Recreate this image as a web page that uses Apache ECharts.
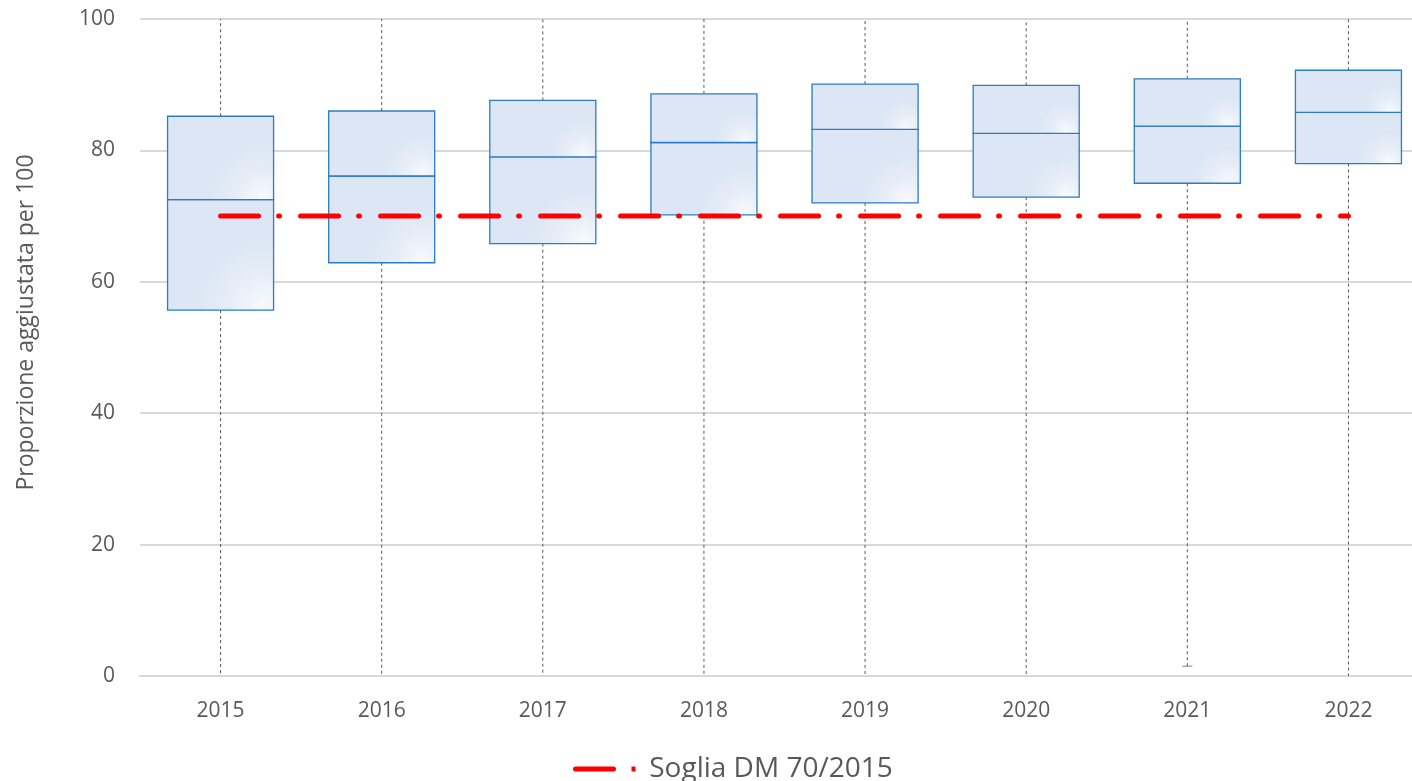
<!DOCTYPE html>
<html>
<head>
<meta charset="utf-8">
<script src="https://cdn.jsdelivr.net/npm/echarts@6/dist/echarts.min.js"></script>
<style>
html,body{margin:0;padding:0;background:#fff;}
#chart{width:1412px;height:781px;}
</style>
</head>
<body>
<div id="chart"></div>
<script>
// ---- data ----
var years = ['2015','2016','2017','2018','2019','2020','2021','2022'];
var whiskerMin = [0, 0, 0, 0, 0, 0, 1.5, 0];
var q1 = [55.7, 62.9, 65.8, 70.2, 72.0, 72.9, 75.0, 78.0];
var median = [72.5, 76.1, 79.0, 81.2, 83.2, 82.6, 83.7, 85.8];
var q3 = [85.2, 86.0, 87.6, 88.6, 90.1, 89.9, 90.9, 92.2];
var whiskerMax = [100, 100, 100, 100, 100, 100, 100, 100];
var threshold = [70, 70, 70, 70, 70, 70, 70, 70];
var yTicks = [0, 20, 40, 60, 80, 100];
var seriesName = 'Soglia DM 70/2015';
var yAxisTitle = 'Proporzione aggiustata per 100';

var boxData = years.map(function (y, i) {
  return [i, whiskerMin[i], q1[i], median[i], q3[i], whiskerMax[i]];
});

var FONT = '"Open Sans", "Noto Sans", sans-serif';
var BORDER = '#2a7cc6';

function boxFill() {
  return new echarts.graphic.RadialGradient(0.88, 0.95, 0.6, [
    { offset: 0, color: '#f7f9fd' },
    { offset: 0.5, color: '#e6edf7' },
    { offset: 1, color: '#dce6f4' }
  ]);
}

function renderBox(params, api) {
  var idx = api.value(0);
  var vMin = api.value(1);
  var pMin = api.coord([idx, vMin]);
  var pQ1 = api.coord([idx, api.value(2)]);
  var pMed = api.coord([idx, api.value(3)]);
  var pQ3 = api.coord([idx, api.value(4)]);
  var pMax = api.coord([idx, api.value(5)]);
  var band = api.size([1, 0])[0];
  var w = band * 0.658;
  var cx = pMed[0];
  var x0 = cx - w / 2;
  var whiskerStyle = { stroke: '#595959', lineWidth: 1, lineDash: [3, 3], fill: null };
  var capStyle = { stroke: '#7f7f7f', lineWidth: 1, fill: null };
  var children = [
    { type: 'line', shape: { x1: cx, y1: pQ3[1], x2: cx, y2: pMax[1] }, style: whiskerStyle },
    { type: 'line', shape: { x1: cx, y1: pQ1[1], x2: cx, y2: pMin[1] }, style: whiskerStyle }
  ];
  if (vMin > 0) {
    children.push({ type: 'line', shape: { x1: cx - 5, y1: pMin[1], x2: cx + 5, y2: pMin[1] }, style: capStyle });
  }
  children.push(
    { type: 'rect', shape: { x: x0, y: pMed[1], width: w, height: pQ1[1] - pMed[1] },
      style: { fill: boxFill(), stroke: BORDER, lineWidth: 1.3 } },
    { type: 'rect', shape: { x: x0, y: pQ3[1], width: w, height: pMed[1] - pQ3[1] },
      style: { fill: boxFill(), stroke: BORDER, lineWidth: 1.3 } }
  );
  return { type: 'group', children: children };
}

var chart = echarts.init(document.getElementById('chart'), null, { renderer: 'canvas' });
chart.setOption({
  animation: false,
  backgroundColor: '#ffffff',
  grid: { left: 140, width: 1289, top: 19, height: 657, containLabel: false, outerBoundsMode: 'none' },
  legend: {
    data: [seriesName],
    top: 750,
    left: 568,
    icon: 'path://M2,0h38a2.5,2.5 0 0 1 0,5h-38a2.5,2.5 0 0 1 0,-5z M58,0h4v5h-4z',
    itemWidth: 64,
    itemHeight: 5,
    itemGap: 10,
    itemStyle: { color: '#ff0000', borderWidth: 0 },
    textStyle: { fontFamily: FONT, fontSize: 28, color: '#595959', padding: [0, 0, 0, 8] }
  },
  xAxis: {
    type: 'category',
    data: years,
    boundaryGap: true,
    axisLine: { show: true, lineStyle: { color: '#d9d9d9', width: 2 } },
    axisTick: { show: false },
    axisLabel: { fontFamily: FONT, fontSize: 21, color: '#595959', margin: 25 },
    splitLine: { show: false }
  },
  yAxis: {
    type: 'value',
    min: 0,
    max: 100,
    interval: 20,
    name: yAxisTitle,
    nameLocation: 'middle',
    nameGap: 102,
    nameTextStyle: { fontFamily: FONT, fontSize: 23, color: '#595959', padding: [0, 0, 0, 50] },
    axisLine: { show: false },
    axisTick: { show: false },
    axisLabel: {
      fontFamily: FONT, fontSize: 21, color: '#595959', margin: 25,
      formatter: function (v) { return yTicks.indexOf(v) >= 0 ? String(v) : ''; }
    },
    splitLine: { show: true, lineStyle: { color: '#d9d9d9', width: 2 } }
  },
  series: [
    {
      type: 'custom',
      name: 'box',
      renderItem: renderBox,
      data: boxData,
      encode: { x: 0, y: [1, 2, 3, 4, 5] },
      z: 2,
      silent: true
    },
    {
      type: 'line',
      name: seriesName,
      data: threshold,
      symbol: 'none',
      z: 5,
      itemStyle: { color: '#ff0000' },
      lineStyle: { color: '#ff0000', width: 5, type: [38, 20, 1, 21], cap: 'round' }
    }
  ]
});
</script>
</body>
</html>
